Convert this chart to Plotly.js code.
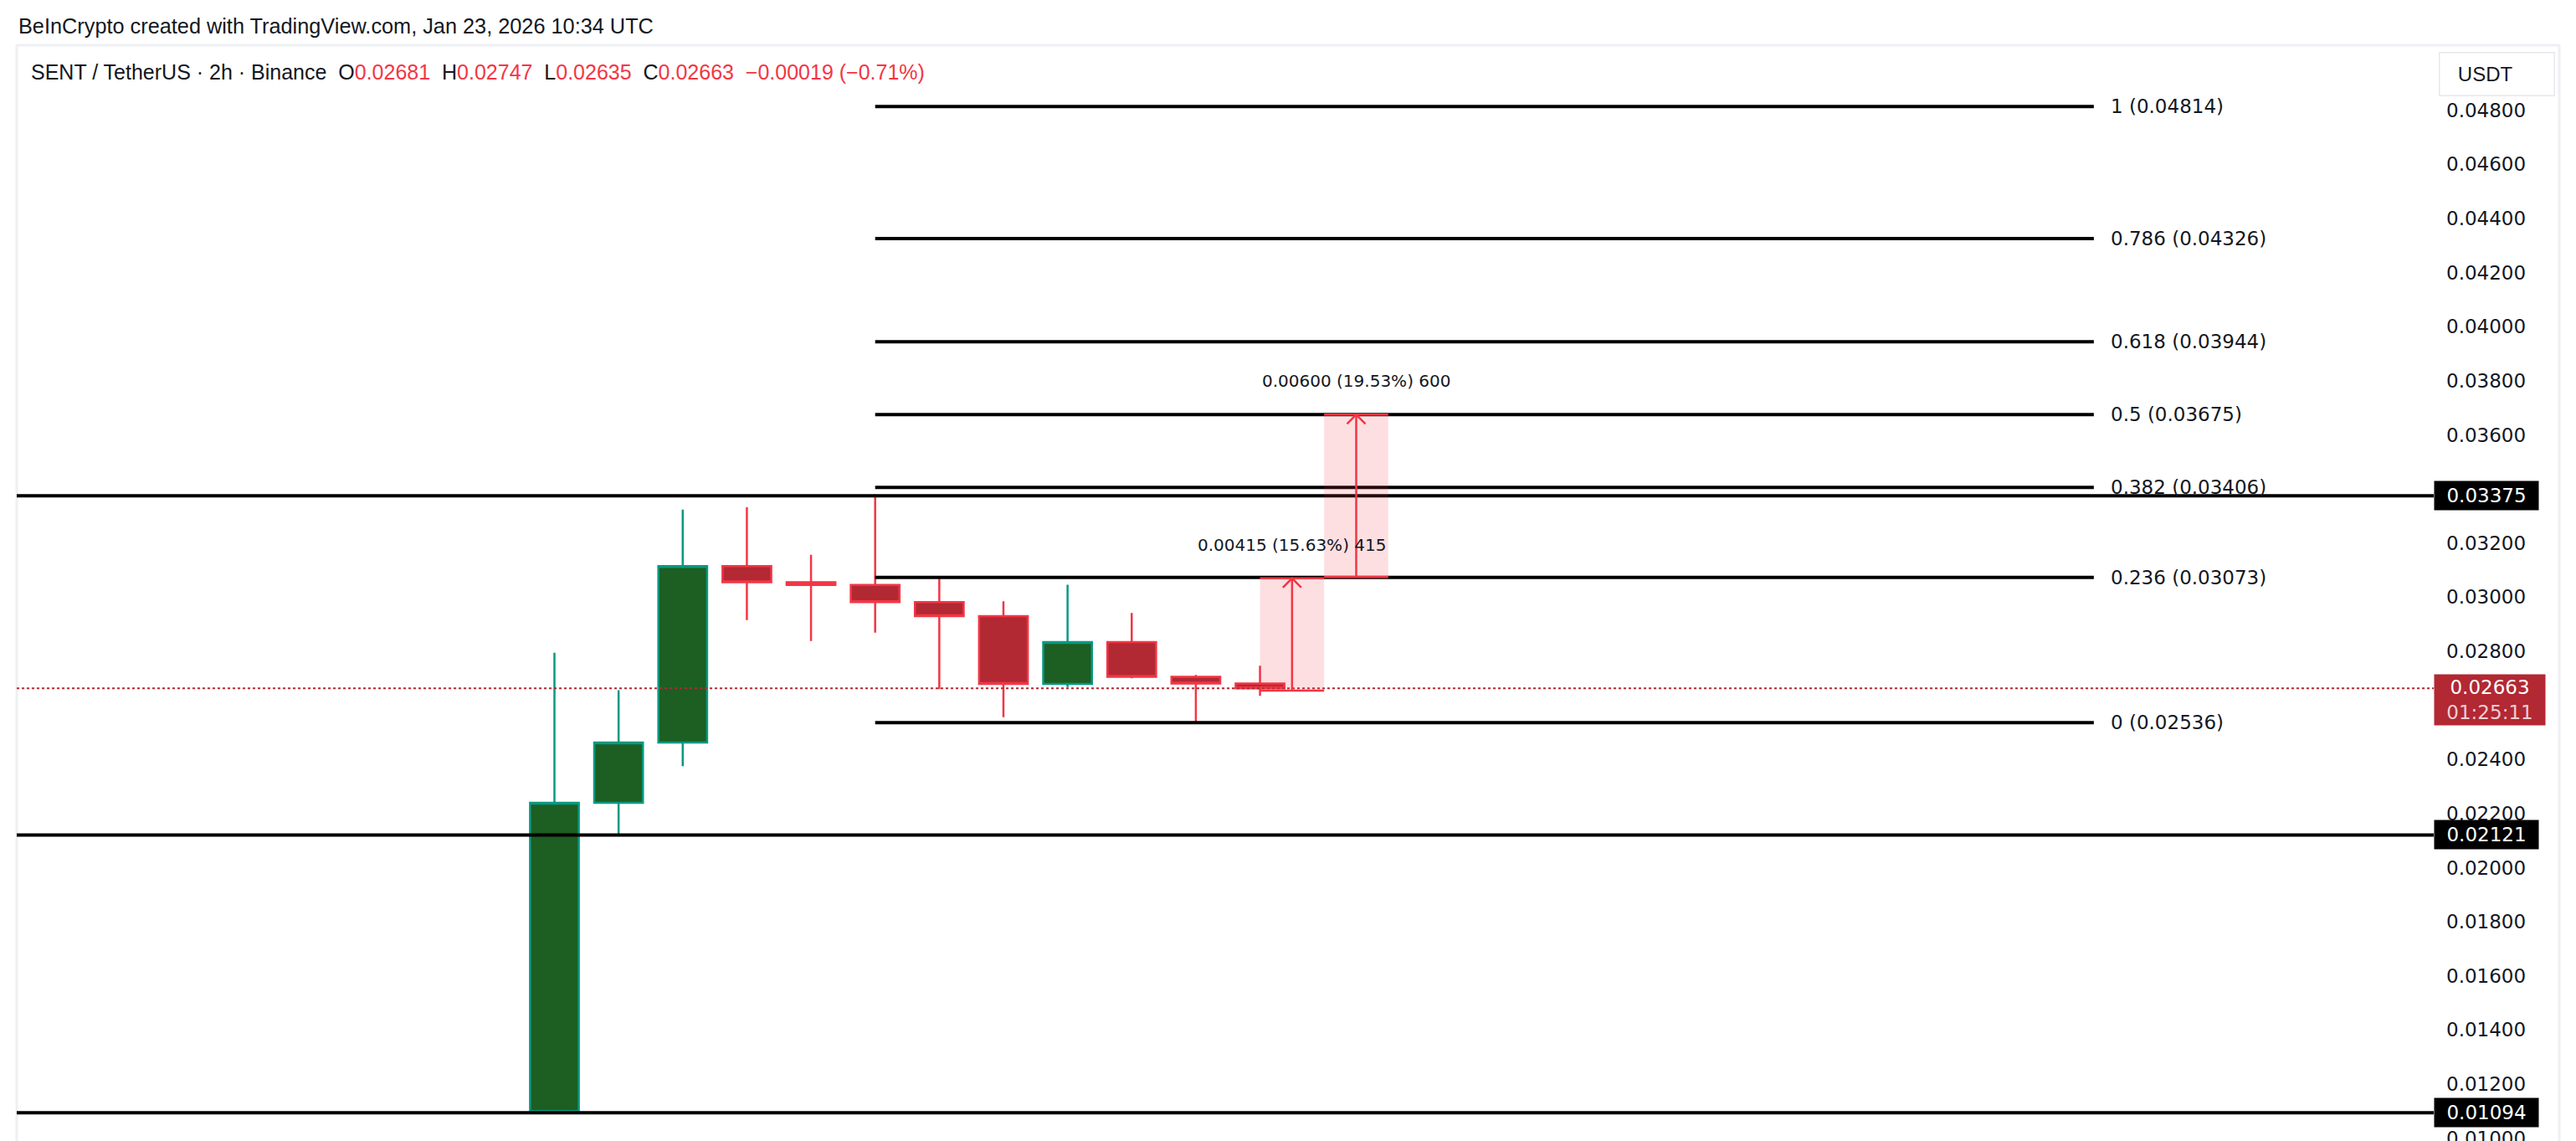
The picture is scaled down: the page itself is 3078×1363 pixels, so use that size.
<!DOCTYPE html>
<html>
<head>
<meta charset="utf-8">
<script src="https://cdn.plot.ly/plotly-3.0.1.min.js"></script>
<style>html,body{margin:0;padding:0;background:#fff;}#chart{width:3078px;height:1363px;}</style>
</head>
<body>
<div id="chart"></div>
<script>
// ---------------- DATA ----------------
const times = ['2026-01-22 12:00','2026-01-22 14:00','2026-01-22 16:00','2026-01-22 18:00','2026-01-22 20:00','2026-01-22 22:00',
               '2026-01-23 00:00','2026-01-23 02:00','2026-01-23 04:00','2026-01-23 06:00','2026-01-23 08:00','2026-01-23 10:00'];
const openP  = [0.01100,0.02240,0.02463,0.03115,0.03055,0.03045,0.02982,0.02930,0.02679,0.02834,0.02706,0.02681];
const highP  = [0.02795,0.02656,0.03324,0.03332,0.03157,0.03380,0.03073,0.02985,0.03046,0.02942,0.02713,0.02747];
const lowP   = [0.01094,0.02121,0.02375,0.02915,0.02838,0.02869,0.02660,0.02556,0.02668,0.02700,0.02536,0.02635];
const closeP = [0.02240,0.02463,0.03115,0.03055,0.03045,0.02982,0.02930,0.02679,0.02834,0.02706,0.02681,0.02663];

const fibRatios = ['1','0.786','0.618','0.5','0.382','0.236','0'];
const fibLevels = [0.04814,0.04326,0.03944,0.03675,0.03406,0.03073,0.02536];
const fibStartBar = 5, fibEndBar = 24;

const supportLevels = [0.03375,0.02121,0.01094];
const lastPrice = 0.02663;
const countdown = '01:25:11';

const measureStartBar = [11,12];
const measureEndBar   = [12,13];
const measureFrom = [0.02655,0.03075];
const measureTo   = [0.03070,0.03675];
const measureText = ['0.00415 (15.63%) 415','0.00600 (19.53%) 600'];

const axisTicks = [0.010,0.012,0.014,0.016,0.018,0.020,0.022,0.024,0.028,0.030,0.032,0.036,0.038,0.040,0.042,0.044,0.046,0.048];

const headerText = 'BeInCrypto created with TradingView.com, Jan 23, 2026 10:34 UTC';
const symbolText = 'SENT / TetherUS · 2h · Binance';
const ohlcLegend = {O:'0.02681', H:'0.02747', L:'0.02635', C:'0.02663'};
const changeText = '\u22120.00019 (\u22120.71%)';

// ---------------- LAYOUT HELPERS ----------------
const W = 3078, H = 1363;
const M = {l:20, r:170, t:54, b:0, pad:0};
const PW = W - M.l - M.r, PH = H - M.t - M.b;
const px2paperX = px => (px - M.l) / PW;
const px2paperY = py => 1 - (py - M.t) / PH;

const RED = '#f23645', RED_FILL = '#b22833', GREEN = '#089981', GREEN_FILL = '#1d5e22';
const TXT = '#131722';
const NUMFONT = 'DejaVu Sans';
const UIFONT = 'Liberation Sans, Arial, sans-serif';

const xIdx = times.map((t, i) => i);

const candle = {
  type: 'candlestick',
  x: xIdx, open: openP, high: highP, low: lowP, close: closeP,
  text: times, hoverinfo: 'text',
  increasing: {line: {color: GREEN, width: 2.5}, fillcolor: GREEN_FILL},
  decreasing: {line: {color: RED, width: 2.5}, fillcolor: RED_FILL},
  whiskerwidth: 0,
  showlegend: false
};

const shapes = [];
const annotations = [];

// panel border
shapes.push({type:'rect', xref:'paper', yref:'paper', x0:0, x1:px2paperX(3058), y0:-0.05, y1:1,
  line:{color:'#eef0f3', width:3}, fillcolor:'rgba(0,0,0,0)', layer:'below'});

// current price dotted line
shapes.push({type:'line', xref:'paper', yref:'y', x0:0, x1:1, y0:lastPrice, y1:lastPrice,
  line:{color:RED_FILL, width:2, dash:'dot'}, layer:'above'});

// fib lines + labels
fibLevels.forEach((lv, i) => {
  shapes.push({type:'line', xref:'x', yref:'y', x0:fibStartBar, x1:fibEndBar, y0:lv, y1:lv,
    line:{color:'#000000', width:4}, layer:'above'});
  annotations.push({xref:'x', yref:'y', x:fibEndBar, y:lv, xanchor:'left', yanchor:'middle', xshift:18,
    text: fibRatios[i] + ' (' + lv.toFixed(5) + ')', showarrow:false,
    font:{family:NUMFONT, size:23, color:TXT}});
});

// support lines + axis boxes
supportLevels.forEach(lv => {
  shapes.push({type:'line', xref:'paper', yref:'y', x0:0, x1:1, y0:lv, y1:lv,
    line:{color:'#000000', width:4}, layer:'above'});
  annotations.push({xref:'paper', yref:'y', x:1, y:lv, xanchor:'left', yanchor:'middle',
    text: lv.toFixed(5), showarrow:false, bgcolor:'#000000', width:120, height:30, borderpad:2,
    font:{family:NUMFONT, size:23, color:'#ffffff'}});
});

// current price box
annotations.push({xref:'paper', yref:'y', x:1, y:lastPrice, xanchor:'left', yanchor:'middle', yshift:-14,
  text: lastPrice.toFixed(5) + '<br><span style="color:rgba(255,255,255,0.78)">' + countdown + '</span>',
  showarrow:false, bgcolor:RED_FILL, width:128, height:56, borderpad:2,
  font:{family:NUMFONT, size:23, color:'#ffffff'}});

// measurement tools
measureFrom.forEach((f, i) => {
  const x0 = measureStartBar[i], x1 = measureEndBar[i], t = measureTo[i], xm = (x0 + x1) / 2;
  shapes.push({type:'rect', xref:'x', yref:'y', x0:x0, x1:x1, y0:f, y1:t,
    fillcolor:'rgba(242,54,69,0.16)', line:{width:0}, layer:'above'});
  shapes.push({type:'line', xref:'x', yref:'y', x0:x0, x1:x1, y0:f, y1:f, line:{color:RED, width:2.5}, layer:'above'});
  shapes.push({type:'line', xref:'x', yref:'y', x0:x0, x1:x1, y0:t, y1:t, line:{color:RED, width:2.5}, layer:'above'});
  shapes.push({type:'line', xref:'x', yref:'y', x0:xm, x1:xm, y0:f, y1:t, line:{color:RED, width:2.5}, layer:'above'});
  shapes.push({type:'path', xref:'x', yref:'y', xsizemode:'pixel', ysizemode:'pixel', xanchor:xm, yanchor:t,
    path:'M-11,-11 L0,0 L11,-11', line:{color:RED, width:2.5}, layer:'above'});
  annotations.push({xref:'x', yref:'y', x:xm, y:t, xanchor:'center', yanchor:'middle', yshift:40,
    text: measureText[i], showarrow:false, font:{family:NUMFONT, size:20, color:TXT}});
});

// header + legend
annotations.push({xref:'paper', yref:'paper', x:px2paperX(20), y:px2paperY(31), xanchor:'left', yanchor:'middle',
  text: headerText, showarrow:false, font:{family:UIFONT, size:25.3, color:TXT}});
const sp = '\u00a0\u00a0';
const red = s => '<span style="color:' + RED + '">' + s + '</span>';
const legendHtml = symbolText + sp + 'O' + red(ohlcLegend.O) + sp + 'H' + red(ohlcLegend.H) + sp +
  'L' + red(ohlcLegend.L) + sp + 'C' + red(ohlcLegend.C) + sp + red(changeText);
annotations.push({xref:'paper', yref:'paper', x:px2paperX(35), y:px2paperY(86), xanchor:'left', yanchor:'middle',
  text: legendHtml, showarrow:false, font:{family:UIFONT, size:25, color:TXT}});

// USDT box
annotations.push({xref:'paper', yref:'paper', x:px2paperX(2914), y:px2paperY(88), xanchor:'left', yanchor:'middle',
  text:'\u00a0\u00a0USDT', showarrow:false, align:'left', width:120, height:34, borderpad:8,
  bordercolor:'#e6e8ec', borderwidth:1.5, bgcolor:'#ffffff',
  font:{family:UIFONT, size:24, color:TXT}});

const layout = {
  width: W, height: H,
  margin: M,
  paper_bgcolor: '#ffffff', plot_bgcolor: '#ffffff',
  showlegend: false,
  boxgap: 0.05, boxgroupgap: 0.2,
  xaxis: {range:[(20 - 662.5) / 76.64, (2908 - 662.5) / 76.64], showgrid:false, zeroline:false,
          showticklabels:false, ticks:'', showline:false, rangeslider:{visible:false}, fixedrange:true},
  yaxis: {side:'right', range:[0.009897, 0.050406], showgrid:false, zeroline:false, showline:false,
          tickvals: axisTicks, ticktext: axisTicks.map(v => v.toFixed(5)), ticks:'', ticklabelstandoff:14,
          ticklabeloverflow:'allow',
          tickfont:{family:NUMFONT, size:23, color:TXT}, fixedrange:true},
  shapes: shapes,
  annotations: annotations
};

Plotly.newPlot('chart', [candle], layout, {displayModeBar:false, staticPlot:true});
</script>
</body>
</html>
